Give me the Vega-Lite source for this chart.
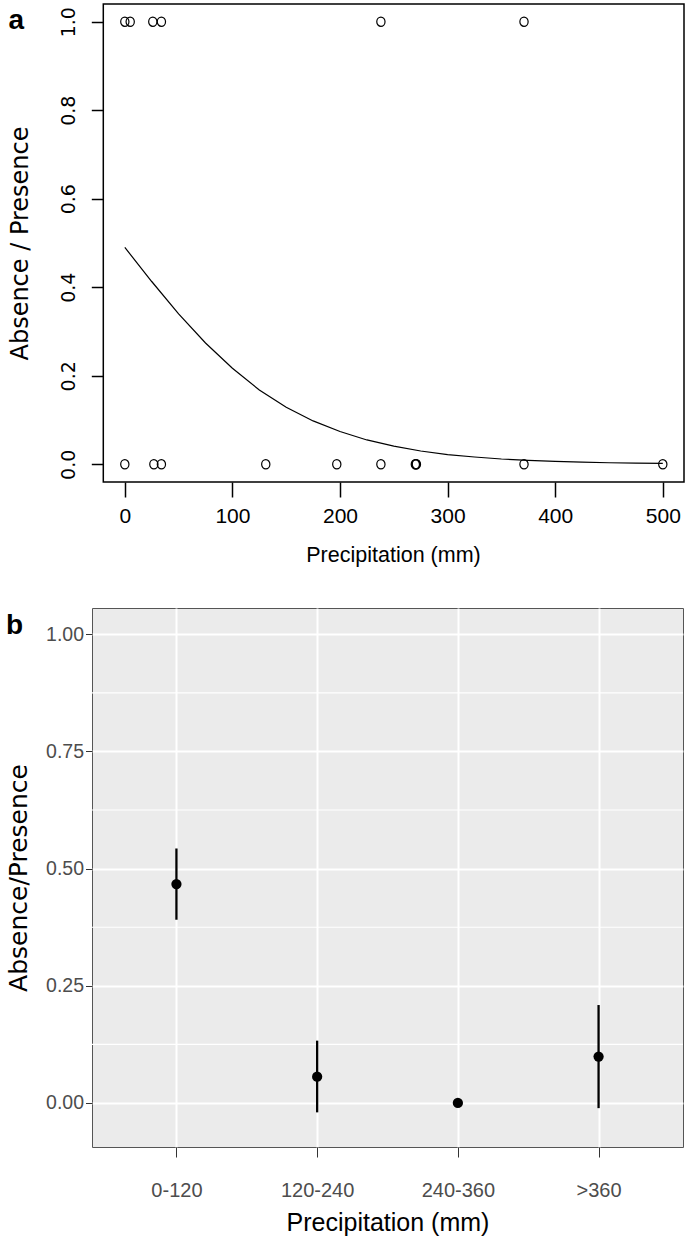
{
  "$schema": "https://vega.github.io/schema/vega-lite/v6.json",
  "background": "white",
  "padding": {"left": 5, "top": 3, "right": 0, "bottom": 0},
  "spacing": 41,
  "columns": 1,
  "align": "none",
  "datasets": {
    "pts": [
      {"precip": 0, "presence": 1}, {"precip": 5, "presence": 1}, {"precip": 26, "presence": 1}, {"precip": 34, "presence": 1},
      {"precip": 238, "presence": 1}, {"precip": 371, "presence": 1},
      {"precip": 0, "presence": 0}, {"precip": 27, "presence": 0}, {"precip": 34, "presence": 0}, {"precip": 131, "presence": 0},
      {"precip": 197, "presence": 0}, {"precip": 238, "presence": 0}, {"precip": 270, "presence": 0}, {"precip": 270.5, "presence": 0},
      {"precip": 271, "presence": 0}, {"precip": 371, "presence": 0}, {"precip": 500, "presence": 0}
    ],
    "curve": [
      {"precip": 0, "presence": 0.49}, {"precip": 25, "presence": 0.413}, {"precip": 50, "presence": 0.34},
      {"precip": 75, "presence": 0.274}, {"precip": 100, "presence": 0.217}, {"precip": 125, "presence": 0.168},
      {"precip": 150, "presence": 0.129}, {"precip": 175, "presence": 0.098}, {"precip": 200, "presence": 0.074},
      {"precip": 225, "presence": 0.055}, {"precip": 250, "presence": 0.041}, {"precip": 275, "presence": 0.03},
      {"precip": 300, "presence": 0.022}, {"precip": 325, "presence": 0.0165}, {"precip": 350, "presence": 0.012},
      {"precip": 375, "presence": 0.0089}, {"precip": 400, "presence": 0.0065}, {"precip": 425, "presence": 0.0048},
      {"precip": 450, "presence": 0.0035}, {"precip": 475, "presence": 0.0026}, {"precip": 500, "presence": 0.0019}
    ],
    "bins": [
      {"cat": "0-120", "mean": 0.467, "lo": 0.391, "hi": 0.543},
      {"cat": "120-240", "mean": 0.056, "lo": -0.02, "hi": 0.133},
      {"cat": "240-360", "mean": 0.0, "lo": 0.0, "hi": 0.0},
      {"cat": ">360", "mean": 0.099, "lo": -0.011, "hi": 0.209}
    ],
    "minor": [
      {"minor": 0.125}, {"minor": 0.375}, {"minor": 0.625}, {"minor": 0.875}
    ],
    "labA": [{"panel": "a"}],
    "labB": [{"panel": "b", "cat": "0-120"}]
  },
  "concat": [
    {
      "width": 592,
      "height": 478,
      "view": {"stroke": null, "fill": null},
      "layer": [
        {
          "data": {"name": "labA"},
          "mark": {"type": "rect", "fill": null, "stroke": "black", "strokeWidth": 1.5, "clip": false},
          "encoding": {
            "x": {"datum": -20, "type": "quantitative", "scale": {"domain": [-30.5, 519.7], "nice": false, "zero": false},
              "axis": {"title": "Precipitation (mm)", "values": [0, 100, 200, 300, 400, 500], "grid": false, "domain": false, "tickColor": "black", "tickSize": 15, "tickWidth": 1.5, "labelFont": "Liberation Sans", "labelFontSize": 21, "labelColor": "black", "labelPadding": 8, "labelFlush": false, "titleFont": "Liberation Sans", "titleFontSize": 21.5, "titleFontWeight": "normal", "titleColor": "black", "titlePadding": 18, "titleX": 301}},
            "x2": {"datum": 519.7},
            "y": {"datum": -0.04, "type": "quantitative", "scale": {"domain": [-0.04, 1.04], "nice": false, "zero": false},
              "axis": {"title": "Absence / Presence", "offset": -11.3, "values": [0, 0.2, 0.4, 0.6, 0.8, 1], "format": ".1f", "grid": false, "domain": false, "tickSize": 12, "tickWidth": 1.5, "tickColor": "black", "labelAngle": -90, "labelAlign": "center", "labelBaseline": "alphabetic", "labelPadding": 17, "labelFont": "DejaVu Sans", "labelFontSize": 19, "labelColor": "black", "labelFlush": false, "titleFont": "DejaVu Sans", "titleFontSize": 24, "titleFontWeight": "normal", "titleColor": "black", "titleBaseline": "alphabetic", "titleAlign": "center", "titleAngle": -90, "titleX": -76, "titleY": 239}},
            "y2": {"datum": 1.04}
          }
        },
        {
          "data": {"name": "curve"},
          "mark": {"type": "line", "color": "black", "strokeWidth": 1.2},
          "encoding": {
            "x": {"field": "precip", "type": "quantitative"},
            "y": {"field": "presence", "type": "quantitative"}
          }
        },
        {
          "data": {"name": "pts"},
          "mark": {"type": "point", "shape": "M-0.89,0A0.89,1,0,1,1,0.89,0A0.89,1,0,1,1,-0.89,0Z", "filled": false, "color": "black", "strokeWidth": 1.2, "size": 86, "opacity": 1},
          "encoding": {
            "x": {"field": "precip", "type": "quantitative"},
            "y": {"field": "presence", "type": "quantitative"}
          }
        },
        {
          "data": {"name": "labA"},
          "mark": {"type": "text", "align": "left", "baseline": "alphabetic", "font": "Liberation Sans", "fontSize": 28, "fontWeight": "bold", "color": "black", "clip": false},
          "encoding": {
            "text": {"field": "panel"},
            "x": {"datum": -108, "type": "quantitative"},
            "y": {"datum": 0.984, "type": "quantitative"}
          }
        }
      ]
    },
    {
      "width": 591,
      "height": 539,
      "view": {"stroke": "#555555", "strokeWidth": 1, "fill": "#EBEBEB"},
      "layer": [
        {
          "data": {"name": "minor"},
          "mark": {"type": "rule", "color": "white", "strokeWidth": 1.1},
          "encoding": {
            "y": {"field": "minor", "type": "quantitative", "scale": {"domain": [-0.0939, 1.0561], "nice": false, "zero": false},
              "axis": {"title": "Absence/Presence", "values": [0, 0.25, 0.5, 0.75, 1], "format": ".2f", "grid": true, "gridColor": "white", "gridWidth": 2, "domain": false, "tickSize": 6.5, "tickColor": "#333333", "tickWidth": 1, "labelFont": "Liberation Sans", "labelFontSize": 19.5, "labelColor": "#4D4D4D", "labelPadding": 2, "labelFlush": false, "titleFont": "DejaVu Sans", "titleFontSize": 25, "titleFontWeight": "normal", "titleColor": "black", "titleBaseline": "alphabetic", "titleAlign": "center", "titleAngle": -90, "titleX": -66, "titleY": 269.5}}
          }
        },
        {
          "data": {"name": "bins"},
          "mark": {"type": "rule", "color": "black", "strokeWidth": 2.3},
          "encoding": {
            "x": {"field": "cat", "type": "ordinal", "sort": ["0-120", "120-240", "240-360", ">360"], "scale": {"type": "point", "padding": 0.6},
              "axis": {"title": "Precipitation  (mm)", "labelAngle": 0, "grid": true, "gridColor": "white", "gridWidth": 2, "domain": false, "tickSize": 10, "tickColor": "#333333", "tickWidth": 1, "labelFont": "Liberation Sans", "labelFontSize": 20, "labelColor": "#4D4D4D", "labelPadding": 23, "titleFont": "Liberation Sans", "titleFontSize": 25, "titleFontWeight": "normal", "titleColor": "black", "titlePadding": 10}},
            "y": {"field": "lo", "type": "quantitative", "scale": {"domain": [-0.0939, 1.0561], "nice": false, "zero": false},
              "axis": {"title": "Absence/Presence", "values": [0, 0.25, 0.5, 0.75, 1], "format": ".2f", "grid": true, "gridColor": "white", "gridWidth": 2, "domain": false, "tickSize": 6.5, "tickColor": "#333333", "tickWidth": 1, "labelFont": "Liberation Sans", "labelFontSize": 19.5, "labelColor": "#4D4D4D", "labelPadding": 2, "labelFlush": false, "titleFont": "DejaVu Sans", "titleFontSize": 25, "titleFontWeight": "normal", "titleColor": "black", "titleBaseline": "alphabetic", "titleAlign": "center", "titleAngle": -90, "titleX": -66, "titleY": 269.5}},
            "y2": {"field": "hi"}
          }
        },
        {
          "data": {"name": "bins"},
          "mark": {"type": "point", "shape": "circle", "filled": true, "color": "black", "size": 105, "opacity": 1},
          "encoding": {
            "x": {"field": "cat", "type": "ordinal", "sort": ["0-120", "120-240", "240-360", ">360"], "scale": {"type": "point", "padding": 0.6},
              "axis": {"title": "Precipitation  (mm)", "labelAngle": 0, "grid": true, "gridColor": "white", "gridWidth": 2, "domain": false, "tickSize": 10, "tickColor": "#333333", "tickWidth": 1, "labelFont": "Liberation Sans", "labelFontSize": 20, "labelColor": "#4D4D4D", "labelPadding": 23, "titleFont": "Liberation Sans", "titleFontSize": 25, "titleFontWeight": "normal", "titleColor": "black", "titlePadding": 10}},
            "y": {"field": "mean", "type": "quantitative", "scale": {"domain": [-0.0939, 1.0561], "nice": false, "zero": false},
              "axis": {"title": "Absence/Presence", "values": [0, 0.25, 0.5, 0.75, 1], "format": ".2f", "grid": true, "gridColor": "white", "gridWidth": 2, "domain": false, "tickSize": 6.5, "tickColor": "#333333", "tickWidth": 1, "labelFont": "Liberation Sans", "labelFontSize": 19.5, "labelColor": "#4D4D4D", "labelPadding": 2, "labelFlush": false, "titleFont": "DejaVu Sans", "titleFontSize": 25, "titleFontWeight": "normal", "titleColor": "black", "titleBaseline": "alphabetic", "titleAlign": "center", "titleAngle": -90, "titleX": -66, "titleY": 269.5}}
          }
        },
        {
          "data": {"name": "labB"},
          "mark": {"type": "text", "align": "left", "baseline": "alphabetic", "font": "Liberation Sans", "fontSize": 28, "fontWeight": "bold", "color": "black", "dx": -170.4, "clip": false},
          "encoding": {
            "text": {"field": "panel"},
            "x": {"field": "cat", "type": "ordinal", "sort": ["0-120", "120-240", "240-360", ">360"]},
            "y": {"datum": 1.0, "type": "quantitative"}
          }
        }
      ]
    }
  ]
}
